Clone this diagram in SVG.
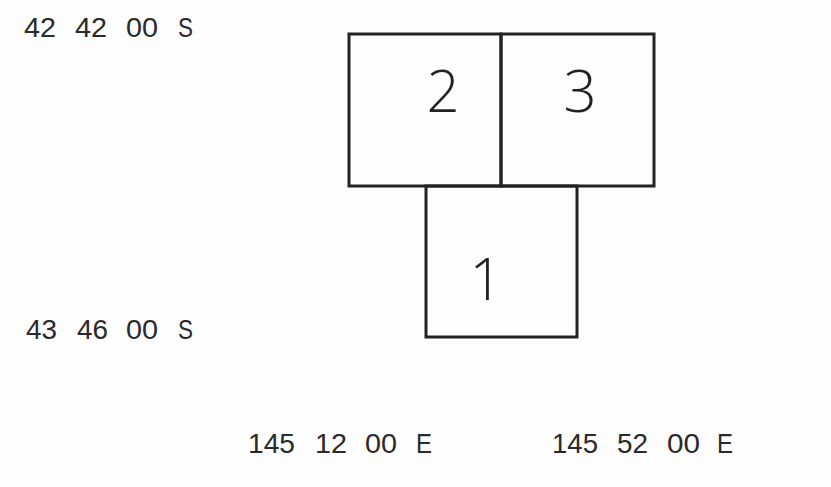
<svg xmlns="http://www.w3.org/2000/svg" width="831" height="487" viewBox="0 0 831 487">
<style>
.lbl{font-family:"Liberation Sans",Arial,sans-serif;font-size:28px;fill:#2a2a2a}
.num{font-family:"Open Sans","DejaVu Sans",sans-serif;font-weight:300;font-size:58px;fill:#222;text-anchor:middle}
.box{fill:none;stroke:#222;stroke-width:3}
</style>
<rect width="831" height="487" fill="#fdfdfd"/>
<g id="node-2"><rect class="box" x="349" y="34" width="152" height="152"/><text class="num" x="443" y="112">2</text></g>
<g id="node-3"><rect class="box" x="501" y="34" width="153" height="152"/><text class="num" x="580" y="112">3</text></g>
<g id="node-1"><rect class="box" x="426" y="186" width="151" height="151"/><text class="num" x="486" y="300">1</text></g>
<g id="connectors"></g>
<g id="labels">
<text class="lbl" x="24" y="37" textLength="32" lengthAdjust="spacingAndGlyphs">42</text>
<text class="lbl" x="75" y="37" textLength="32" lengthAdjust="spacingAndGlyphs">42</text>
<text class="lbl" x="126" y="37" textLength="32" lengthAdjust="spacingAndGlyphs">00</text>
<text class="lbl" x="178" y="37" textLength="15" lengthAdjust="spacingAndGlyphs">S</text>
<text class="lbl" x="26" y="339" textLength="31" lengthAdjust="spacingAndGlyphs">43</text>
<text class="lbl" x="77" y="339" textLength="31" lengthAdjust="spacingAndGlyphs">46</text>
<text class="lbl" x="126" y="339" textLength="32" lengthAdjust="spacingAndGlyphs">00</text>
<text class="lbl" x="178" y="339" textLength="15" lengthAdjust="spacingAndGlyphs">S</text>
<text class="lbl" x="248" y="453" textLength="47" lengthAdjust="spacingAndGlyphs">145</text>
<text class="lbl" x="315" y="453" textLength="32" lengthAdjust="spacingAndGlyphs">12</text>
<text class="lbl" x="365" y="453" textLength="32" lengthAdjust="spacingAndGlyphs">00</text>
<text class="lbl" x="416" y="453" textLength="16" lengthAdjust="spacingAndGlyphs">E</text>
<text class="lbl" x="552" y="453" textLength="46" lengthAdjust="spacingAndGlyphs">145</text>
<text class="lbl" x="617" y="453" textLength="31" lengthAdjust="spacingAndGlyphs">52</text>
<text class="lbl" x="667" y="453" textLength="33" lengthAdjust="spacingAndGlyphs">00</text>
<text class="lbl" x="717" y="453" textLength="16" lengthAdjust="spacingAndGlyphs">E</text>
</g>
</svg>
